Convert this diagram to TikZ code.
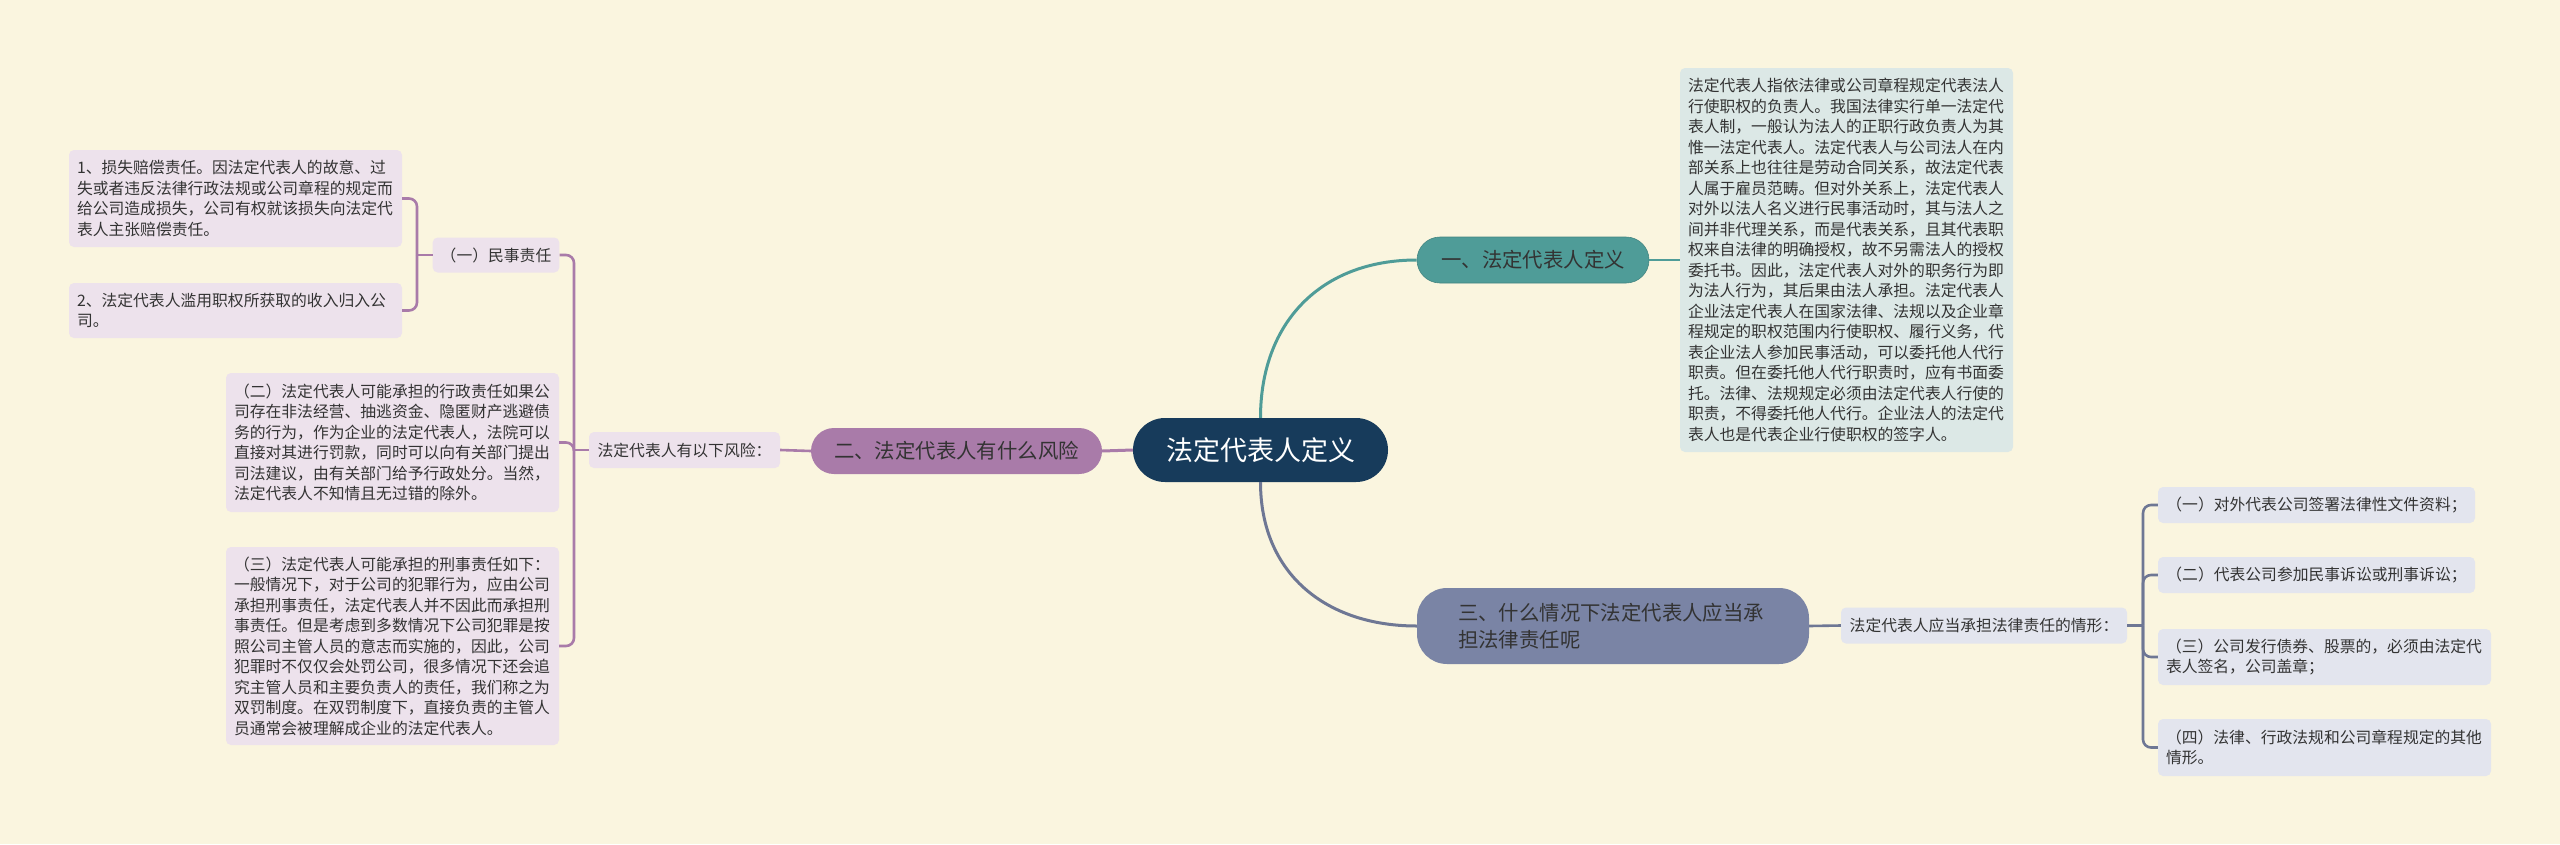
\documentclass[tikz,border=0pt]{standalone}
\usepackage{fontspec}
\setmainfont{Noto Sans CJK SC}
\usepackage{tikz}
\usepackage{xcolor}
\definecolor{bgc}{HTML}{FAF5DF}
\definecolor{rootc}{HTML}{173B5B}
\definecolor{tealc}{HTML}{4F9C98}
\definecolor{teall}{HTML}{DCE8E6}
\definecolor{purc}{HTML}{A97BA9}
\definecolor{purl}{HTML}{EDE2EC}
\definecolor{bluec}{HTML}{7A84A5}
\definecolor{bluel}{HTML}{E3E5EE}
\definecolor{txt}{HTML}{333333}

\begin{document}
\begin{tikzpicture}[x=1pt,y=-1pt,
    leaf/.style={rounded corners=5pt,text=txt,align=left,inner xsep=8pt,inner ysep=0pt,
      font=\fontsize{15.8pt}{20.5pt}\selectfont},
    topic/.style={text=txt,inner xsep=0pt,inner ysep=0pt,font=\fontsize{20.4pt}{27pt}\selectfont},
    link/.style={line width=2.6pt}]
    \fill[bgc] (0,0) rectangle (2560,844);
    \useasboundingbox (0,0) rectangle (2560,844);

    \node[fill=rootc,text=white,rounded corners=32pt,minimum width=255pt,minimum height=64pt,
      font=\fontsize{27pt}{30pt}\selectfont] (root) at (1260.5,450) {法定代表人定义};

    \node[topic,fill=tealc,draw=tealc!85!black,line width=0.6pt,rounded corners=23pt,
      minimum width=232pt,minimum height=46pt] (b1) at (1533,260) {一、法定代表人定义};
    \node[leaf,fill=teall,text width=317pt,minimum height=384pt] (def) at (1846.5,260) {法定代表人指依法律或公司章程规定代表法人\\
行使职权的负责人。我国法律实行单一法定代\\
表人制，一般认为法人的正职行政负责人为其\\
惟一法定代表人。法定代表人与公司法人在内\\
部关系上也往往是劳动合同关系，故法定代表\\
人属于雇员范畴。但对外关系上，法定代表人\\
对外以法人名义进行民事活动时，其与法人之\\
间并非代理关系，而是代表关系，且其代表职\\
权来自法律的明确授权，故不另需法人的授权\\
委托书。因此，法定代表人对外的职务行为即\\
为法人行为，其后果由法人承担。法定代表人\\
企业法定代表人在国家法律、法规以及企业章\\
程规定的职权范围内行使职权、履行义务，代\\
表企业法人参加民事活动，可以委托他人代行\\
职责。但在委托他人代行职责时，应有书面委\\
托。法律、法规规定必须由法定代表人行使的\\
职责，不得委托他人代行。企业法人的法定代\\
表人也是代表企业行使职权的签字人。};

    \node[topic,fill=purc,rounded corners=23pt,minimum width=291pt,minimum height=46pt] (b2) at (956.5,451) {二、法定代表人有什么风险};
    \node[leaf,fill=purl,minimum width=191pt,minimum height=36pt] (risk) at (684.5,450) {法定代表人有以下风险：};
    \node[leaf,fill=purl,minimum width=126pt,minimum height=35pt] (civil) at (496,255) {（一）民事责任};
    \node[leaf,fill=purl,text width=317pt,minimum height=97pt] (loss) at (235.5,198.5) {1、损失赔偿责任。因法定代表人的故意、过\\
失或者违反法律行政法规或公司章程的规定而\\
给公司造成损失，公司有权就该损失向法定代\\
表人主张赔偿责任。};
    \node[leaf,fill=purl,text width=317pt,minimum height=55pt] (gain) at (235.5,310.5) {2、法定代表人滥用职权所获取的收入归入公\\
司。};
    \node[leaf,fill=purl,text width=317pt,minimum height=139pt] (admin) at (392.5,442.5) {（二）法定代表人可能承担的行政责任如果公\\
司存在非法经营、抽逃资金、隐匿财产逃避债\\
务的行为，作为企业的法定代表人，法院可以\\
直接对其进行罚款，同时可以向有关部门提出\\
司法建议，由有关部门给予行政处分。当然，\\
法定代表人不知情且无过错的除外。};
    \node[leaf,fill=purl,text width=317pt,minimum height=198pt] (crime) at (392.5,646) {（三）法定代表人可能承担的刑事责任如下：\\
一般情况下，对于公司的犯罪行为，应由公司\\
承担刑事责任，法定代表人并不因此而承担刑\\
事责任。但是考虑到多数情况下公司犯罪是按\\
照公司主管人员的意志而实施的，因此，公司\\
犯罪时不仅仅会处罚公司，很多情况下还会追\\
究主管人员和主要负责人的责任，我们称之为\\
双罚制度。在双罚制度下，直接负责的主管人\\
员通常会被理解成企业的法定代表人。};

    \node[topic,fill=bluec,rounded corners=30pt,align=left,text width=310pt,
      minimum width=392pt,minimum height=76pt] (b3) at (1613,626) {三、什么情况下法定代表人应当承\\担法律责任呢};
    \node[leaf,fill=bluel,minimum width=286pt,minimum height=36pt] (cases) at (1984,625.5) {法定代表人应当承担法律责任的情形：};
    \node[leaf,fill=bluel,minimum width=317pt,minimum height=36pt] (sign) at (2316.5,505) {（一）对外代表公司签署法律性文件资料；};
    \node[leaf,fill=bluel,minimum width=317pt,minimum height=36pt] (suit) at (2316.5,575) {（二）代表公司参加民事诉讼或刑事诉讼；};
    \node[leaf,fill=bluel,text width=317pt,minimum height=56pt] (bond) at (2324.5,657) {（三）公司发行债券、股票的，必须由法定代\\表人签名，公司盖章；};
    \node[leaf,fill=bluel,text width=317pt,minimum height=57pt] (other) at (2324.5,747.5) {（四）法律、行政法规和公司章程规定的其他\\情形。};

    \coordinate (tcivil) at (417,255);
    \coordinate (trisk) at (574,450);
    \coordinate (tcases) at (2143,625.5);

    \draw[link,line width=3pt,tealc] (root.north) to[out=90,in=180,looseness=1.1] (b1.west);
    \draw[link,line width=3pt,bluec!90!black] (root.south) to[out=-90,in=180,looseness=1.1] (b3.west);
    \draw[link,line width=3pt,purc] (root.west) -- (b2.east);
    \draw[link,tealc] (b1.east) -- (def.west);

    \draw[link,purc] (b2.west) -- (risk.east);
    \draw[link,purc] (risk.west) -- (trisk);
    \draw[link,purc,rounded corners=8pt] (trisk) |- (civil.east);
    \draw[link,purc,rounded corners=8pt] (trisk) |- (admin.east);
    \draw[link,purc,rounded corners=8pt] (trisk) |- (crime.east);
    \draw[link,purc] (civil.west) -- (tcivil);
    \draw[link,purc,rounded corners=8pt] (tcivil) |- (loss.east);
    \draw[link,purc,rounded corners=8pt] (tcivil) |- (gain.east);

    \draw[link,bluec!90!black] (b3.east) -- (cases.west);
    \draw[link,bluec!90!black] (cases.east) -- (tcases);
    \draw[link,bluec!90!black,rounded corners=8pt] (tcases) |- (sign.west);
    \draw[link,bluec!90!black,rounded corners=8pt] (tcases) |- (suit.west);
    \draw[link,bluec!90!black,rounded corners=8pt] (tcases) |- (bond.west);
    \draw[link,bluec!90!black,rounded corners=8pt] (tcases) |- (other.west);
\end{tikzpicture}
\end{document}
